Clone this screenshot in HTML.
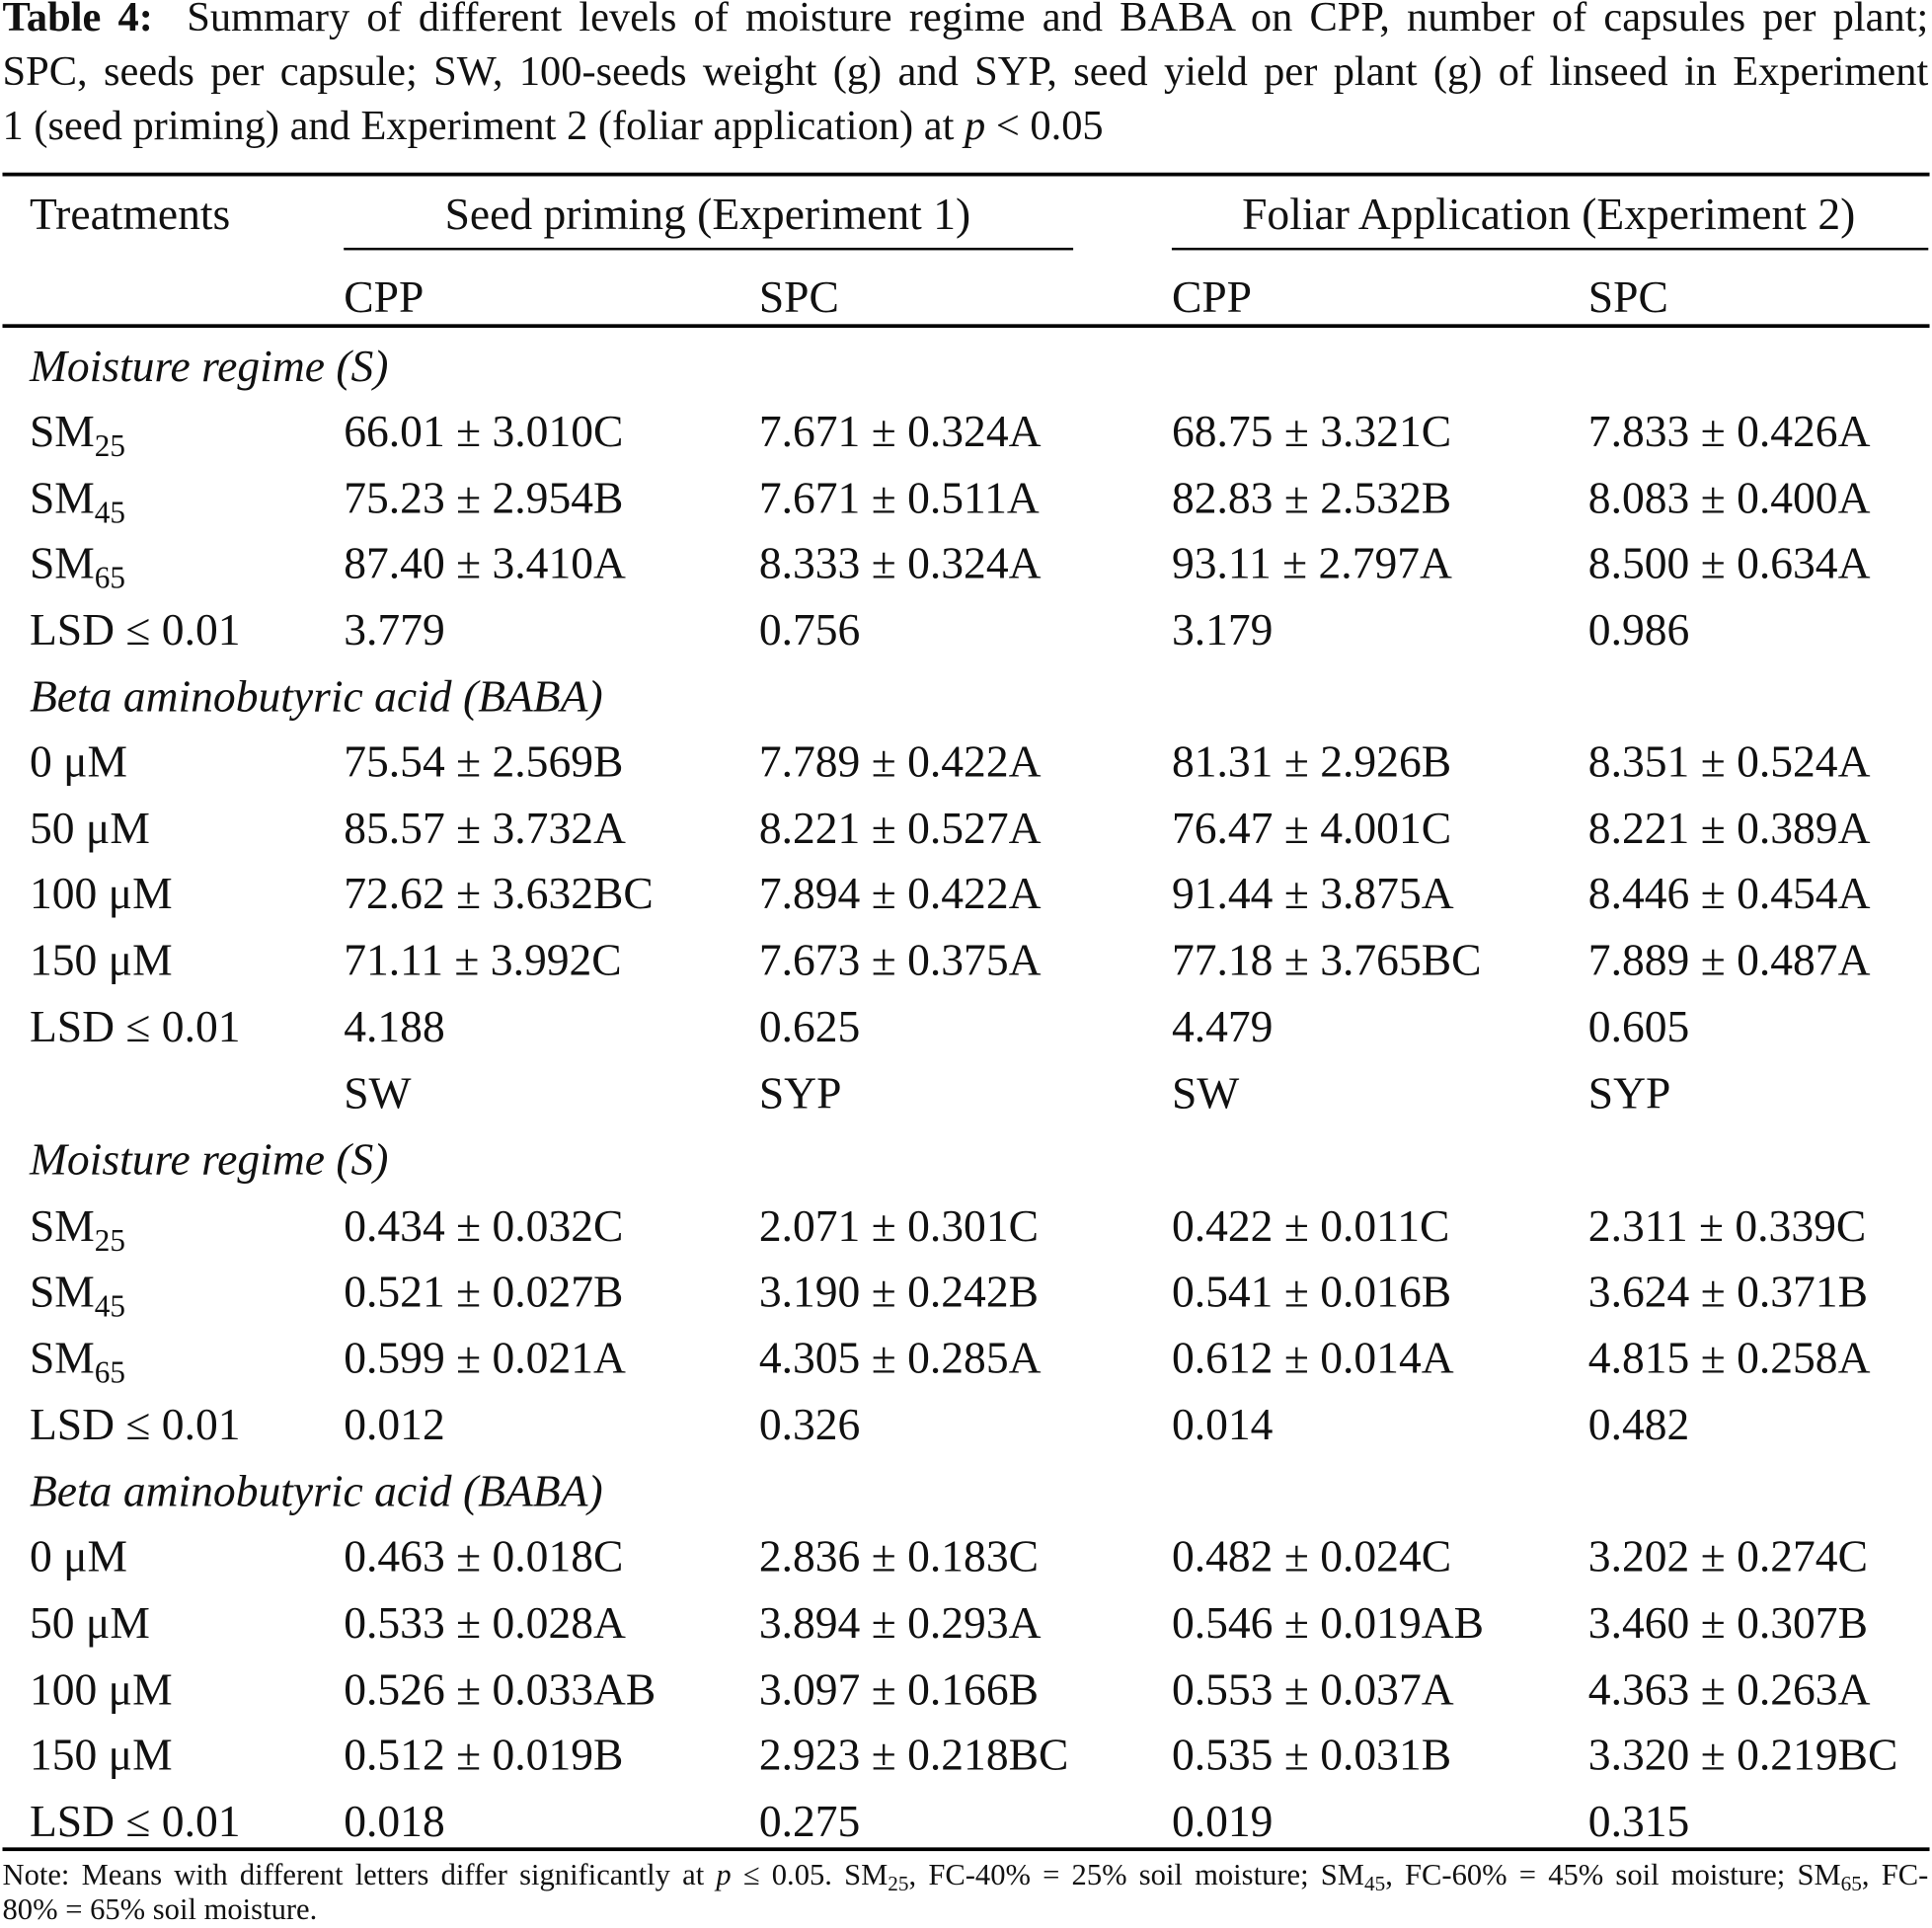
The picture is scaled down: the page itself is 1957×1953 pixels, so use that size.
<!DOCTYPE html>
<html><head><meta charset="utf-8"><style>
html,body{margin:0;padding:0;background:#fff;}
body{width:1957px;height:1950px;overflow:hidden;}
#c{position:absolute;left:0;top:0;width:1568px;height:1562px;transform:scale(1.2481,1.2484);transform-origin:0 0;font-family:"Liberation Serif",serif;color:#111;}
.t{position:absolute;white-space:nowrap;font-size:36.5px;line-height:40px;height:40px;}
.cl{position:absolute;left:2px;width:1563px;font-size:34px;line-height:44px;height:44px;white-space:nowrap;text-align:justify;text-align-last:justify;}
.r{position:absolute;background:#000;}
sub{font-size:25px;vertical-align:-8px;line-height:0;}
.nl{position:absolute;left:2px;width:1563px;font-size:24.5px;line-height:28px;height:28px;white-space:nowrap;text-align:justify;text-align-last:justify;}
i{font-style:italic;}
</style></head><body><div id="c">
<div class="cl" style="top:-7px"><b>Table 4:</b>&nbsp; Summary of different levels of moisture regime and BABA on CPP, number of capsules per plant;</div>
<div class="cl" style="top:37px">SPC, seeds per capsule; SW, 100-seeds weight (g) and SYP, seed yield per plant (g) of linseed in Experiment</div>
<div class="cl" style="top:81px;text-align-last:left">1 (seed priming) and Experiment 2 (foliar application) at <i>p</i> &lt; 0.05</div>
<div class="r" style="left:2px;top:140px;width:1564px;height:3px"></div>
<div class="r" style="left:279px;top:201px;width:592px;height:2px"></div>
<div class="r" style="left:951px;top:201px;width:614px;height:2px"></div>
<div class="r" style="left:2px;top:263px;width:1564px;height:3px"></div>
<div class="r" style="left:2px;top:1499px;width:1564px;height:3px"></div>
<div class="t" style="left:24px;top:154px">Treatments</div>
<div class="t" style="left:361px;top:154px">Seed priming (Experiment 1)</div>
<div class="t" style="left:1008px;top:154px">Foliar Application (Experiment 2)</div>
<div class="t" style="left:279px;top:221px">CPP</div><div class="t" style="left:616px;top:221px">SPC</div><div class="t" style="left:951px;top:221px">CPP</div><div class="t" style="left:1289px;top:221px">SPC</div>

<div class="t" style="left:24px;top:277px"><i>Moisture regime (S)</i></div>
<div class="t" style="left:24px;top:330px">SM<sub>25</sub></div><div class="t" style="left:279px;top:330px">66.01 ± 3.010C</div><div class="t" style="left:616px;top:330px">7.671 ± 0.324A</div><div class="t" style="left:951px;top:330px">68.75 ± 3.321C</div><div class="t" style="left:1289px;top:330px">7.833 ± 0.426A</div>
<div class="t" style="left:24px;top:384px">SM<sub>45</sub></div><div class="t" style="left:279px;top:384px">75.23 ± 2.954B</div><div class="t" style="left:616px;top:384px">7.671 ± 0.511A</div><div class="t" style="left:951px;top:384px">82.83 ± 2.532B</div><div class="t" style="left:1289px;top:384px">8.083 ± 0.400A</div>
<div class="t" style="left:24px;top:437px">SM<sub>65</sub></div><div class="t" style="left:279px;top:437px">87.40 ± 3.410A</div><div class="t" style="left:616px;top:437px">8.333 ± 0.324A</div><div class="t" style="left:951px;top:437px">93.11 ± 2.797A</div><div class="t" style="left:1289px;top:437px">8.500 ± 0.634A</div>
<div class="t" style="left:24px;top:491px">LSD ≤ 0.01</div><div class="t" style="left:279px;top:491px">3.779</div><div class="t" style="left:616px;top:491px">0.756</div><div class="t" style="left:951px;top:491px">3.179</div><div class="t" style="left:1289px;top:491px">0.986</div>
<div class="t" style="left:24px;top:545px"><i>Beta aminobutyric acid (BABA)</i></div>
<div class="t" style="left:24px;top:598px">0 μM</div><div class="t" style="left:279px;top:598px">75.54 ± 2.569B</div><div class="t" style="left:616px;top:598px">7.789 ± 0.422A</div><div class="t" style="left:951px;top:598px">81.31 ± 2.926B</div><div class="t" style="left:1289px;top:598px">8.351 ± 0.524A</div>
<div class="t" style="left:24px;top:652px">50 μM</div><div class="t" style="left:279px;top:652px">85.57 ± 3.732A</div><div class="t" style="left:616px;top:652px">8.221 ± 0.527A</div><div class="t" style="left:951px;top:652px">76.47 ± 4.001C</div><div class="t" style="left:1289px;top:652px">8.221 ± 0.389A</div>
<div class="t" style="left:24px;top:705px">100 μM</div><div class="t" style="left:279px;top:705px">72.62 ± 3.632BC</div><div class="t" style="left:616px;top:705px">7.894 ± 0.422A</div><div class="t" style="left:951px;top:705px">91.44 ± 3.875A</div><div class="t" style="left:1289px;top:705px">8.446 ± 0.454A</div>
<div class="t" style="left:24px;top:759px">150 μM</div><div class="t" style="left:279px;top:759px">71.11 ± 3.992C</div><div class="t" style="left:616px;top:759px">7.673 ± 0.375A</div><div class="t" style="left:951px;top:759px">77.18 ± 3.765BC</div><div class="t" style="left:1289px;top:759px">7.889 ± 0.487A</div>
<div class="t" style="left:24px;top:813px">LSD ≤ 0.01</div><div class="t" style="left:279px;top:813px">4.188</div><div class="t" style="left:616px;top:813px">0.625</div><div class="t" style="left:951px;top:813px">4.479</div><div class="t" style="left:1289px;top:813px">0.605</div>
<div class="t" style="left:279px;top:867px">SW</div><div class="t" style="left:616px;top:867px">SYP</div><div class="t" style="left:951px;top:867px">SW</div><div class="t" style="left:1289px;top:867px">SYP</div>
<div class="t" style="left:24px;top:921px"><i>Moisture regime (S)</i></div>
<div class="t" style="left:24px;top:975px">SM<sub>25</sub></div><div class="t" style="left:279px;top:975px">0.434 ± 0.032C</div><div class="t" style="left:616px;top:975px">2.071 ± 0.301C</div><div class="t" style="left:951px;top:975px">0.422 ± 0.011C</div><div class="t" style="left:1289px;top:975px">2.311 ± 0.339C</div>
<div class="t" style="left:24px;top:1028px">SM<sub>45</sub></div><div class="t" style="left:279px;top:1028px">0.521 ± 0.027B</div><div class="t" style="left:616px;top:1028px">3.190 ± 0.242B</div><div class="t" style="left:951px;top:1028px">0.541 ± 0.016B</div><div class="t" style="left:1289px;top:1028px">3.624 ± 0.371B</div>
<div class="t" style="left:24px;top:1082px">SM<sub>65</sub></div><div class="t" style="left:279px;top:1082px">0.599 ± 0.021A</div><div class="t" style="left:616px;top:1082px">4.305 ± 0.285A</div><div class="t" style="left:951px;top:1082px">0.612 ± 0.014A</div><div class="t" style="left:1289px;top:1082px">4.815 ± 0.258A</div>
<div class="t" style="left:24px;top:1136px">LSD ≤ 0.01</div><div class="t" style="left:279px;top:1136px">0.012</div><div class="t" style="left:616px;top:1136px">0.326</div><div class="t" style="left:951px;top:1136px">0.014</div><div class="t" style="left:1289px;top:1136px">0.482</div>
<div class="t" style="left:24px;top:1190px"><i>Beta aminobutyric acid (BABA)</i></div>
<div class="t" style="left:24px;top:1243px">0 μM</div><div class="t" style="left:279px;top:1243px">0.463 ± 0.018C</div><div class="t" style="left:616px;top:1243px">2.836 ± 0.183C</div><div class="t" style="left:951px;top:1243px">0.482 ± 0.024C</div><div class="t" style="left:1289px;top:1243px">3.202 ± 0.274C</div>
<div class="t" style="left:24px;top:1297px">50 μM</div><div class="t" style="left:279px;top:1297px">0.533 ± 0.028A</div><div class="t" style="left:616px;top:1297px">3.894 ± 0.293A</div><div class="t" style="left:951px;top:1297px">0.546 ± 0.019AB</div><div class="t" style="left:1289px;top:1297px">3.460 ± 0.307B</div>
<div class="t" style="left:24px;top:1351px">100 μM</div><div class="t" style="left:279px;top:1351px">0.526 ± 0.033AB</div><div class="t" style="left:616px;top:1351px">3.097 ± 0.166B</div><div class="t" style="left:951px;top:1351px">0.553 ± 0.037A</div><div class="t" style="left:1289px;top:1351px">4.363 ± 0.263A</div>
<div class="t" style="left:24px;top:1404px">150 μM</div><div class="t" style="left:279px;top:1404px">0.512 ± 0.019B</div><div class="t" style="left:616px;top:1404px">2.923 ± 0.218BC</div><div class="t" style="left:951px;top:1404px">0.535 ± 0.031B</div><div class="t" style="left:1289px;top:1404px">3.320 ± 0.219BC</div>
<div class="t" style="left:24px;top:1458px">LSD ≤ 0.01</div><div class="t" style="left:279px;top:1458px">0.018</div><div class="t" style="left:616px;top:1458px">0.275</div><div class="t" style="left:951px;top:1458px">0.019</div><div class="t" style="left:1289px;top:1458px">0.315</div>
<div class="nl" style="top:1508px">Note: Means with different letters differ significantly at <i>p</i> ≤ 0.05. SM<sub style="font-size:17px;vertical-align:-5px">25</sub>, FC-40% = 25% soil moisture; SM<sub style="font-size:17px;vertical-align:-5px">45</sub>, FC-60% = 45% soil moisture; SM<sub style="font-size:17px;vertical-align:-5px">65</sub>, FC-</div>
<div class="nl" style="top:1536px;text-align-last:left">80% = 65% soil moisture.</div>
</div></body></html>
